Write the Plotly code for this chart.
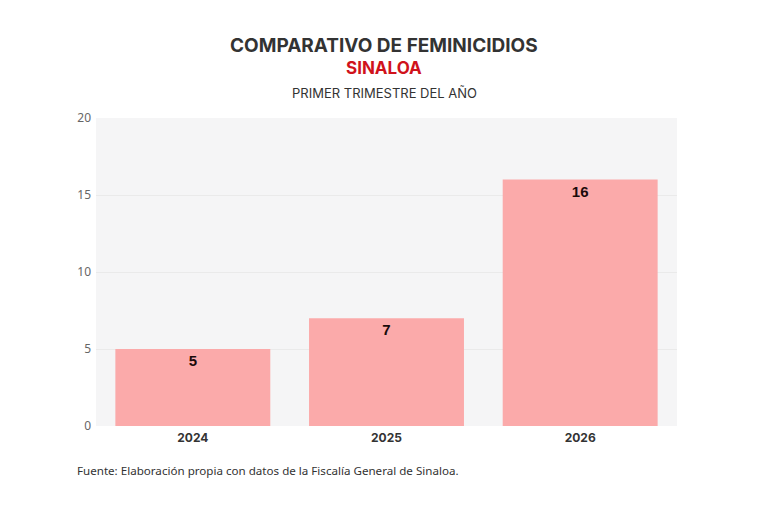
import plotly.graph_objects as go

years = ["2024", "2025", "2026"]
feminicidios = [5, 7, 16]
y_ticks = [0, 5, 10, 15, 20]

OFF = 8  # page body offset
W, H = 768, 512
L, R, T, B = 96 - OFF, W - 677 + OFF, 118 - OFF, 512 - 426 + OFF

fig = go.Figure()
fig.add_trace(go.Bar(
    x=years, y=feminicidios,
    marker=dict(color="#FBAAAA", line=dict(width=0)),
    text=[str(v) for v in feminicidios],
    textposition="inside", insidetextanchor="end",
    textfont=dict(family="Liberation Sans", size=15, color="#1a0a0a", weight="bold"),
    cliponaxis=False,
))

pw = W - L - R
ph = H - T - B

def ax(px):
    return (px - OFF - L) / pw

def ay(py):
    return (H - B - (py - OFF)) / ph

fig.update_layout(
    width=W, height=H,
    margin=dict(l=L, r=R, t=T, b=B),
    paper_bgcolor="white",
    plot_bgcolor="#F5F5F6",
    bargap=0.2,
    showlegend=False,
    font=dict(family="Inter", color="#555555"),
    xaxis=dict(
        tickfont=dict(family="Inter", size=12, color="#333333", weight="bold"),
        showgrid=False, ticks="", showline=False, ticklabelstandoff=3,
    ),
    yaxis=dict(
        range=[0, 20], tickvals=y_ticks,
        tickfont=dict(family="Noto Sans", size=12, color="#666666"),
        showgrid=True, gridcolor="#EAEAEA", gridwidth=1,
        zeroline=False, ticks="", showline=False, ticklabelstandoff=4,
    ),
    annotations=[
        dict(text="<b>COMPARATIVO DE FEMINICIDIOS</b>", x=ax(384), y=ay(46),
             xref="paper", yref="paper", yanchor="middle", showarrow=False,
             font=dict(family="Inter", size=19, color="#333333")),
        dict(text="<b>SINALOA</b>", x=ax(384), y=ay(68),
             xref="paper", yref="paper", yanchor="middle", showarrow=False,
             font=dict(family="Inter", size=17, color="#D0121B")),
        dict(text="PRIMER TRIMESTRE DEL AÑO", x=ax(384), y=ay(93),
             xref="paper", yref="paper", yanchor="middle", showarrow=False,
             font=dict(family="Inter", size=13, color="#333333")),
        dict(text="Fuente: Elaboración propia con datos de la Fiscalía General de Sinaloa.",
             x=ax(75), y=ay(470), xref="paper", yref="paper", xanchor="left",
             yanchor="middle", showarrow=False,
             font=dict(family="Noto Sans", size=11.6, color="#333333")),
    ],
)

fig.write_html("out.html")
